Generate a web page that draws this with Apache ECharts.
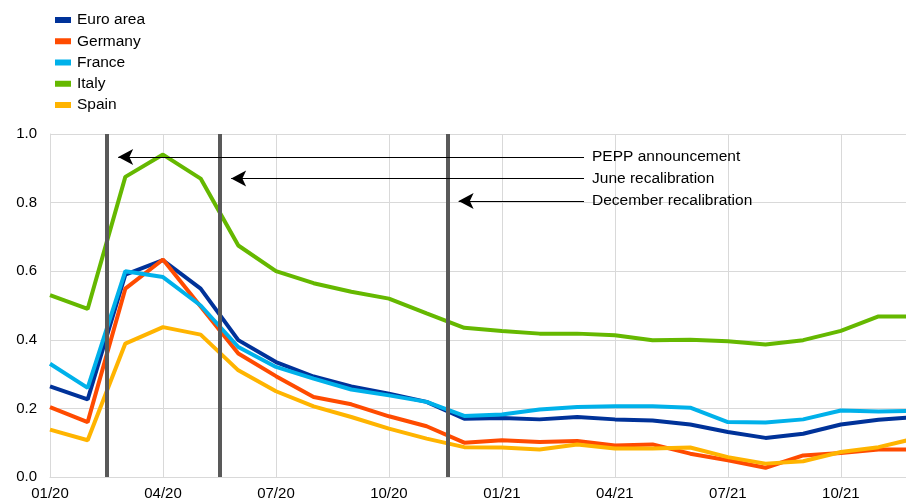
<!DOCTYPE html>
<html>
<head>
<meta charset="utf-8">
<script src="https://cdn.jsdelivr.net/npm/echarts@6/dist/echarts.min.js"></script>
<style>
html,body{margin:0;padding:0;background:#fff;}
#chart{width:906px;height:501px;}
</style>
</head>
<body>
<div id="chart"></div>
<script>
const months = ['01/20','02/20','03/20','04/20','05/20','06/20','07/20','08/20','09/20','10/20','11/20','12/20',
                '01/21','02/21','03/21','04/21','05/21','06/21','07/21','08/21','09/21','10/21','11/21','12/21'];
const euroArea = [0.264,0.226,0.590,0.632,0.549,0.399,0.335,0.293,0.264,0.243,0.219,0.170,
                  0.172,0.168,0.175,0.168,0.165,0.153,0.131,0.114,0.126,0.153,0.167,0.175];
const germany  = [0.204,0.160,0.549,0.634,0.497,0.360,0.294,0.233,0.212,0.177,0.148,0.100,
                  0.107,0.102,0.105,0.092,0.095,0.068,0.049,0.027,0.063,0.070,0.080,0.080];
const france   = [0.330,0.260,0.600,0.583,0.500,0.379,0.321,0.287,0.255,0.238,0.219,0.178,
                  0.182,0.197,0.204,0.206,0.206,0.202,0.160,0.159,0.168,0.194,0.191,0.193];
const italy    = [0.530,0.490,0.875,0.940,0.870,0.675,0.600,0.565,0.540,0.520,0.477,0.435,
                  0.426,0.418,0.418,0.413,0.399,0.400,0.396,0.386,0.399,0.426,0.468,0.468];
const spain    = [0.138,0.107,0.389,0.437,0.415,0.311,0.250,0.206,0.175,0.141,0.112,0.087,
                  0.086,0.080,0.095,0.083,0.083,0.086,0.058,0.039,0.046,0.073,0.087,0.113];
const seriesNames = ['Euro area','Germany','France','Italy','Spain'];
// policy events, in months after the 01/20 observation
const eventPositions = [1.52, 4.52, 10.56];
const eventNames = ['PEPP announcement','June recalibration','December recalibration'];
const yTicks = [0, 0.2, 0.4, 0.6, 0.8, 1.0];

const colors = ['#003299','#ff4b00','#00b1ea','#65b800','#ffb400'];
const allData = [euroArea, germany, france, italy, spain];
const FONT = '"Liberation Sans", Arial, sans-serif';

const arrowY = [0.933, 0.870, 0.805];
const arrowStartX = 14.18;

const series = allData.map((arr, k) => ({
  name: seriesNames[k],
  type: 'line',
  data: arr.map((v, i) => [i, v]),
  symbol: 'none',
  lineStyle: { width: 4, color: colors[k] },
  itemStyle: { color: colors[k] },
  z: 2,
  silent: true
}));

series.push({
  name: 'events',
  type: 'line',
  data: [],
  z: 5,
  silent: true,
  markLine: {
    silent: true,
    animation: false,
    symbol: ['none','none'],
    lineStyle: { color: '#595959', width: 4, type: 'solid' },
    label: { show: false },
    data: eventPositions.map(p => ({ xAxis: p }))
  }
});

series.push({
  name: 'arrows',
  type: 'line',
  data: [],
  z: 6,
  silent: true,
  markLine: {
    silent: true,
    animation: false,
    symbol: ['none','arrow'],
    symbolSize: [12, 15],
    lineStyle: { color: '#000', width: 1.2, type: 'solid' },
    label: {
      show: true, position: 'start', distance: 8,
      color: '#000', fontSize: 15.5, fontFamily: FONT,
      formatter: p => p.name
    },
    data: eventPositions.map((p, k) => [
      { name: eventNames[k], coord: [arrowStartX, arrowY[k]] },
      { coord: [p + 0.29, arrowY[k]] }
    ])
  }
});

const chart = echarts.init(document.getElementById('chart'), null, { renderer: 'canvas' });
chart.setOption({
  animation: false,
  textStyle: { fontFamily: FONT },
  legend: {
    data: seriesNames,
    orient: 'vertical',
    left: 50, top: 7,
    itemWidth: 16, itemHeight: 6, itemGap: 5.25,
    icon: 'rect',
    textStyle: { fontSize: 15.5, color: '#000', fontFamily: FONT, lineHeight: 16, padding: [0,0,0,1] },
    selectedMode: false
  },
  grid: { left: 50, right: 0, top: 134, bottom: 24, containLabel: false },
  xAxis: {
    type: 'value', min: 0, max: 22.73, interval: 3,
    axisLine: { show: true, lineStyle: { color: '#d9d9d9', width: 1 } },
    axisTick: { show: false },
    splitLine: { show: true, lineStyle: { color: '#d9d9d9', width: 1 } },
    axisLabel: {
      color: '#000', fontSize: 15, fontFamily: FONT, margin: 9,
      showMaxLabel: false,
      formatter: v => months[Math.round(v)] || ''
    }
  },
  yAxis: {
    type: 'value', min: yTicks[0], max: yTicks[yTicks.length-1], interval: 0.2,
    axisLine: { show: true, lineStyle: { color: '#d9d9d9', width: 1 } },
    axisTick: { show: false },
    splitLine: { show: true, lineStyle: { color: '#d9d9d9', width: 1 } },
    axisLabel: { color: '#000', fontSize: 15, fontFamily: FONT, margin: 13, formatter: v => v.toFixed(1) }
  },
  series: series
});
</script>
</body>
</html>
